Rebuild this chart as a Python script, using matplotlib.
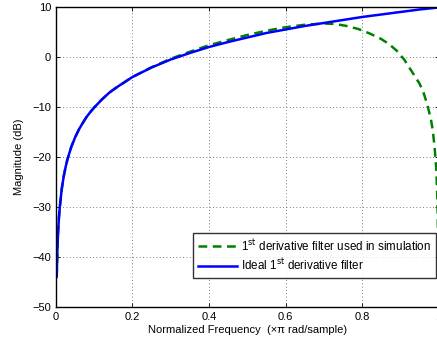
import matplotlib
matplotlib.use("Agg")
import matplotlib.pyplot as plt

plt.rcParams["font.family"] = ["Liberation Sans", "DejaVu Sans"]

# ideal differentiator
freq_ideal = [0.002, 0.004, 0.006, 0.008, 0.01, 0.015, 0.02, 0.025, 0.03, 0.04,
              0.05, 0.06, 0.07, 0.08, 0.09, 0.1, 0.12, 0.14, 0.16, 0.18, 0.2,
              0.25, 0.3, 0.35, 0.4, 0.45, 0.5, 0.55, 0.6, 0.65, 0.7, 0.75,
              0.8, 0.85, 0.9, 0.95, 1.0]
mag_ideal = [-44.0, -38.0, -34.5, -32.0, -30.1, -26.5, -24.0, -22.1, -20.5, -18.0,
             -16.1, -14.5, -13.2, -12.0, -11.0, -10.1, -8.5, -7.1, -6.0, -5.0, -4.0,
             -2.1, -0.5, 0.8, 2.0, 3.0, 3.9, 4.8, 5.5, 6.2, 6.8, 7.4,
             8.0, 8.5, 9.0, 9.5, 9.9]

# filter used in the simulation
freq_sim = [0.002, 0.004, 0.006, 0.008, 0.01, 0.015, 0.02, 0.025, 0.03, 0.04,
            0.05, 0.06, 0.07, 0.08, 0.09, 0.1, 0.12, 0.14, 0.16, 0.18, 0.2,
            0.25, 0.3, 0.35, 0.4, 0.45, 0.5, 0.55, 0.6, 0.65, 0.7, 0.73,
            0.76, 0.79, 0.82, 0.85, 0.87, 0.89, 0.91, 0.93, 0.95, 0.96, 0.97,
            0.98, 0.985, 0.99, 0.994, 0.997, 0.999, 1.0]
mag_sim = [-44.0, -38.0, -34.5, -32.0, -30.1, -26.5, -24.0, -22.1, -20.5, -18.0,
           -16.1, -14.5, -13.2, -12.0, -11.0, -10.1, -8.5, -7.1, -6.0, -5.0, -4.0,
           -2.05, -0.35, 1.05, 2.35, 3.4, 4.4, 5.25, 5.95, 6.45, 6.7, 6.6,
           6.2, 5.6, 4.7, 3.6, 2.6, 1.3, -0.5, -2.9, -5.3, -7.0, -9.4,
           -12.5, -14.8, -18.5, -22.5, -29.0, -38.0, -60.0]

fig = plt.figure(figsize=(4.37, 3.43), dpi=100)
ax = fig.add_axes([0.128, 0.105, 0.8757, 0.8746])

ax.plot(freq_sim, mag_sim, color="#008000", lw=1.8, ls=(0, (3.5, 2.2)),
        label=r"1$^{\rm st}$ derivative filter used in simulation")
ax.plot(freq_ideal, mag_ideal, color="#0000ff", lw=1.8,
        label=r"Ideal 1$^{\rm st}$ derivative filter")

ax.set_xlim(0, 1)
ax.set_ylim(-50, 10)
ax.set_xticks([0, 0.2, 0.4, 0.6, 0.8, 1])
ax.set_xticklabels(["0", "0.2", "0.4", "0.6", "0.8", "1"])
ax.set_yticks(range(-50, 11, 10))
ax.set_yticklabels(["\u221250", "\u221240", "\u221230", "\u221220", "\u221210", "0", "10"])
ax.tick_params(direction="in", top=True, right=True, labelsize=8, length=3, width=0.6)
ax.grid(True, color="#555555", ls=(0, (1, 3)), lw=0.6)
for s in ax.spines.values():
    s.set_linewidth(1.0)

ax.set_xlabel("Normalized Frequency  (\u00d7\u03c0 rad/sample)", fontsize=8, labelpad=2)
ax.set_ylabel("Magnitude (dB)", fontsize=8, labelpad=6)

leg = ax.legend(loc="lower right", bbox_to_anchor=(0.993, 0.097), fontsize=8.4,
                frameon=True, fancybox=False, borderaxespad=0, handlelength=3.3,
                borderpad=0.4, labelspacing=0.35, handletextpad=0.4)
leg.get_frame().set_edgecolor("black")
leg.get_frame().set_linewidth(1.0)

fig.savefig("out.png", dpi=100, facecolor="white")
